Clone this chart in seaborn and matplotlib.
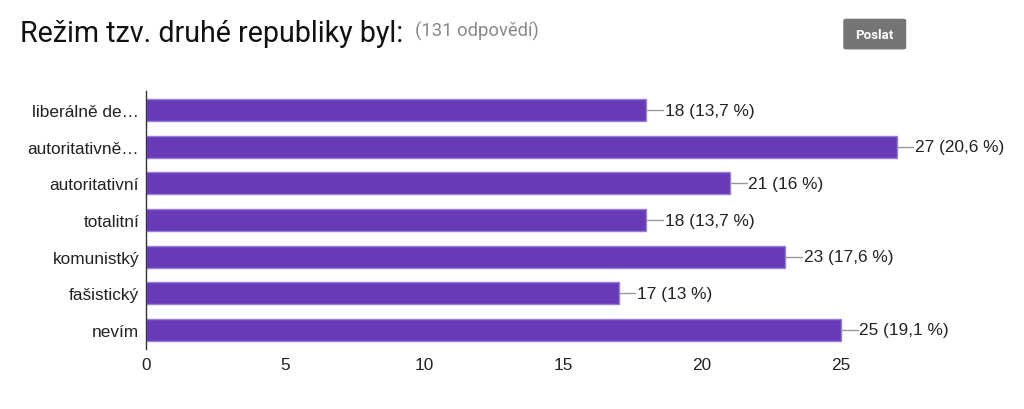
import matplotlib
matplotlib.use('Agg')
import matplotlib.pyplot as plt
import seaborn as sns
import pandas as pd
from matplotlib.patches import FancyBboxPatch

# odpovědi z formuláře
categories = ['liberálně de…', 'autoritativně…', 'autoritativní', 'totalitní',
              'komunistký', 'fašistický', 'nevím']
counts = [18, 27, 21, 18, 23, 17, 25]
labels = ['18 (13,7 %)', '27 (20,6 %)', '21 (16 %)', '18 (13,7 %)',
          '23 (17,6 %)', '17 (13 %)', '25 (19,1 %)']
xticks = [0, 5, 10, 15, 20, 25]

df = pd.DataFrame({'odpoved': categories, 'pocet': counts})

sns.set_theme(style='white')
plt.rcParams['font.family'] = ['Liberation Sans', 'DejaVu Sans']

fig = plt.figure(figsize=(10.24, 4.10), dpi=100)
ax = fig.add_axes([0.1426, 0.1463, 0.8145, 0.629])

sns.barplot(data=df, x='pocet', y='odpoved', orient='h', color='#673ab7',
            width=0.6, edgecolor='#9a7fd6', linewidth=1, saturation=1, ax=ax)

ax.set_xlim(0, 30)
ax.set_ylim(6.52, -0.52)
ax.set_xticks(xticks)
ax.set_xlabel('')
ax.set_ylabel('')
ax.tick_params(axis='both', length=0, labelsize=12.4, colors='#222222')
ax.tick_params(axis='x', pad=6)
ax.tick_params(axis='y', pad=5)
for s in ['top', 'right', 'bottom']:
    ax.spines[s].set_visible(False)
ax.spines['left'].set_color('#333333')
ax.spines['left'].set_linewidth(1)

# popisky s hodnotami
for i, (v, lab) in enumerate(zip(counts, labels)):
    ax.plot([v, v + 0.6], [i, i], color='#999999', lw=1)
    ax.text(v + 0.65, i, lab, va='center', ha='left', fontsize=12.4, color='#222222')

fig.text(0.0195, 0.916, 'Režim tzv. druhé republiky byl:', fontsize=20.6,
         family=['Roboto', 'DejaVu Sans'], color='#111111', va='center')
fig.text(0.405, 0.924, '(131 odpovědí)', fontsize=13.2,
         family=['Roboto', 'DejaVu Sans'], color='#888888', va='center')

# tlačítko
btn = FancyBboxPatch((0.8235, 0.877), 0.0615, 0.075, transform=fig.transFigure,
                     boxstyle='round,pad=0,rounding_size=0.004', fc='#757575', ec='none')
fig.patches.append(btn)
fig.text(0.8542, 0.914, 'Poslat', fontsize=9.5, fontweight='bold', color='white',
         ha='center', va='center', family=['Roboto', 'DejaVu Sans'])

fig.savefig('out.png', dpi=100)
